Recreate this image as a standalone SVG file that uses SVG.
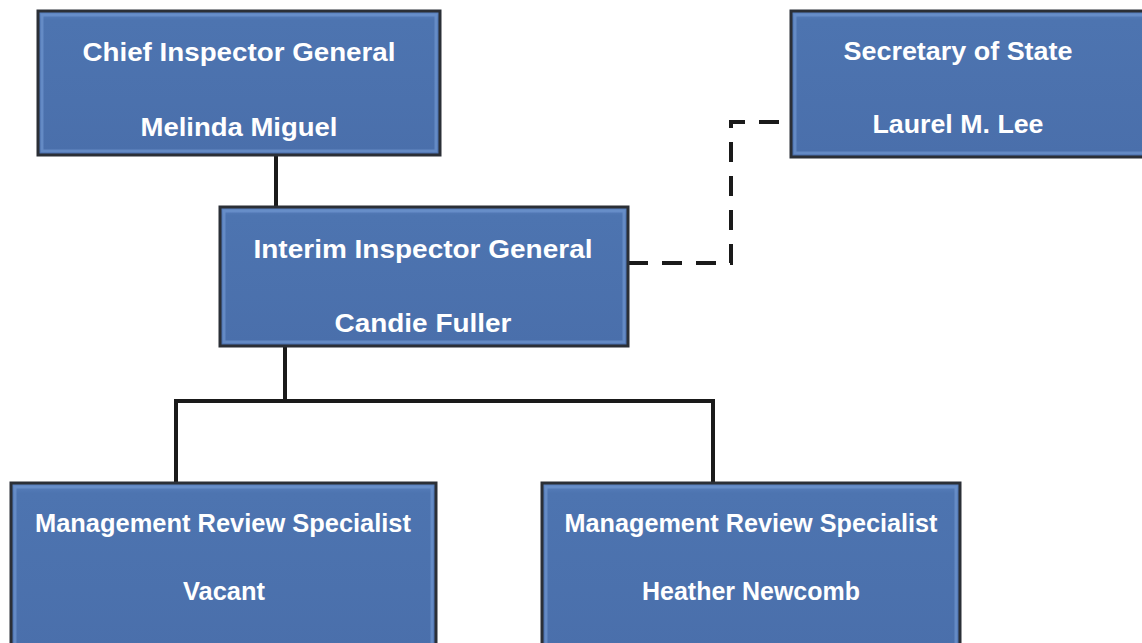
<svg xmlns="http://www.w3.org/2000/svg" width="1142" height="643" viewBox="0 0 1142 643">
<defs>
<linearGradient id="g" x1="0" y1="0" x2="0" y2="1">
<stop offset="0" stop-color="#5a82bf"/>
<stop offset="0.06" stop-color="#4d74b0"/>
<stop offset="1" stop-color="#4a6fab"/>
</linearGradient>
</defs>
<style>
.box{fill:url(#g);stroke:#2b2f36;stroke-width:3}
.bev{fill:none;stroke:#6f95cf;stroke-width:3;opacity:0.7}
.t{font-family:"Liberation Sans",Arial,sans-serif;font-weight:bold;font-size:25px;fill:#ffffff;text-anchor:middle}
.ln{stroke:#1a1a1a;stroke-width:4;fill:none}
.dash{stroke:#1a1a1a;stroke-width:4;fill:none;stroke-dasharray:20 14}
</style>
<rect width="1142" height="643" fill="#ffffff"/>
<g id="connectors">
<line class="ln" x1="276" y1="155" x2="276" y2="206"/>
<line class="ln" x1="285" y1="346" x2="285" y2="401"/>
<polyline class="ln" points="176,482 176,401 713,401 713,482"/>
<polyline class="dash" points="628,263 731,263 731,122 790,122"/>
</g>
<g id="chief">
<rect class="box" x="38" y="11" width="402" height="144"/>
<rect class="bev" x="42" y="15" width="394" height="136"/>
<text class="t" x="239" y="61" textLength="313" lengthAdjust="spacingAndGlyphs">Chief Inspector General</text>
<text class="t" x="239" y="136" textLength="197" lengthAdjust="spacingAndGlyphs">Melinda Miguel</text>
</g>
<g id="secretary">
<rect class="box" x="791" y="11" width="360" height="146"/>
<rect class="bev" x="795" y="15" width="352" height="138"/>
<text class="t" x="958" y="60" textLength="229" lengthAdjust="spacingAndGlyphs">Secretary of State</text>
<text class="t" x="958" y="133" textLength="171" lengthAdjust="spacingAndGlyphs">Laurel M. Lee</text>
</g>
<g id="interim">
<rect class="box" x="220" y="207" width="408" height="139"/>
<rect class="bev" x="224" y="211" width="400" height="131"/>
<text class="t" x="423" y="258" textLength="339" lengthAdjust="spacingAndGlyphs">Interim Inspector General</text>
<text class="t" x="423" y="332" textLength="177" lengthAdjust="spacingAndGlyphs">Candie Fuller</text>
</g>
<g id="mrs-vacant">
<rect class="box" x="11" y="483" width="425" height="170"/>
<rect class="bev" x="15" y="487" width="417" height="162"/>
<text class="t" x="223" y="532" textLength="376" lengthAdjust="spacingAndGlyphs">Management Review Specialist</text>
<text class="t" x="224" y="600" textLength="82" lengthAdjust="spacingAndGlyphs">Vacant</text>
</g>
<g id="mrs-newcomb">
<rect class="box" x="542" y="483" width="418" height="170"/>
<rect class="bev" x="546" y="487" width="410" height="162"/>
<text class="t" x="751" y="532" textLength="373" lengthAdjust="spacingAndGlyphs">Management Review Specialist</text>
<text class="t" x="751" y="600" textLength="218" lengthAdjust="spacingAndGlyphs">Heather Newcomb</text>
</g>
</svg>
